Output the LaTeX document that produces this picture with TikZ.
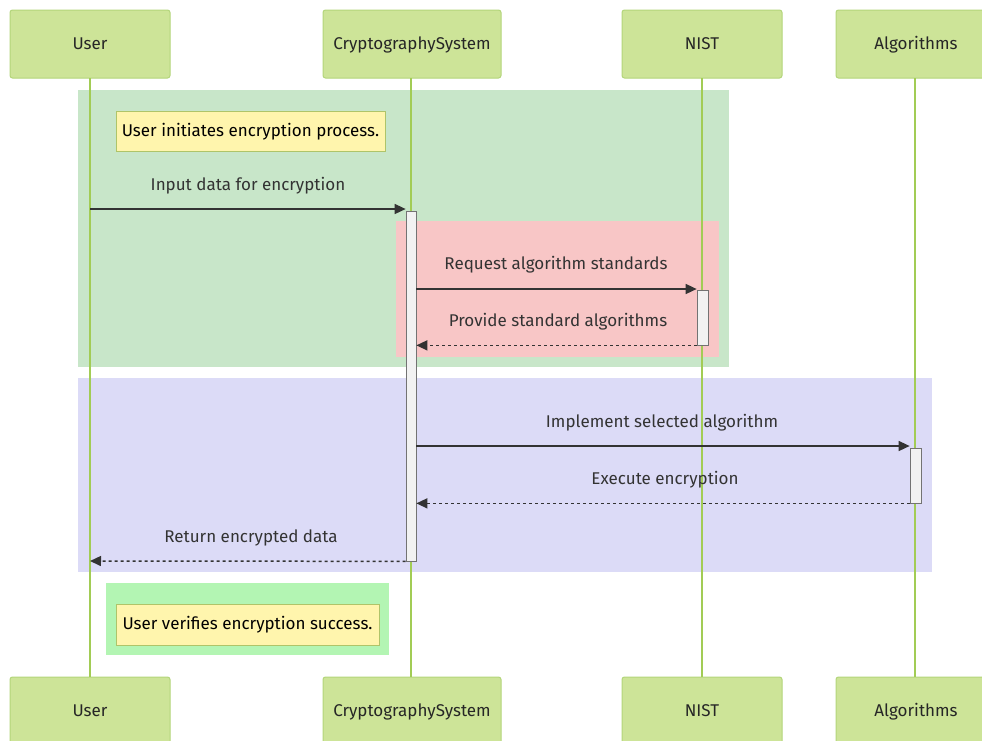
\documentclass[tikz,border=0pt]{standalone}
\usepackage{fontspec}
\setmainfont{Fira Sans}
\usetikzlibrary{arrows.meta}
\definecolor{actfill}{HTML}{CDE498}
\definecolor{actline}{HTML}{B3D57A}
\definecolor{lifeline}{HTML}{A2CC55}
\definecolor{grpgreen}{HTML}{C8E6C9}
\definecolor{grppink}{HTML}{F8C6C6}
\definecolor{grpblue}{HTML}{DCDBF7}
\definecolor{grplight}{HTML}{B3F5B3}
\definecolor{notefill}{HTML}{FFF5AD}
\definecolor{noteline}{HTML}{AFC469}
\definecolor{txt}{HTML}{333333}
\tikzset{
  x=1pt,y=-1pt,
  actor/.style={draw=actline,fill=actfill,rounded corners=2.5pt,line width=1pt,minimum width=160pt,minimum height=68pt,text height=10pt,text depth=0pt,font=\fontsize{17}{20}\selectfont,text=black!85},
  life/.style={draw=lifeline,line width=1.3pt},
  actbox/.style={draw=black!55,fill=black!5,line width=0.7pt},
  note/.style={draw=noteline,fill=notefill,line width=0.9pt,inner sep=0pt,text height=10pt,text depth=0pt,font=\fontsize{17}{20}\selectfont,text=black},
  msglabel/.style={font=\fontsize{17}{20}\selectfont,text=txt},
  msg/.style={draw=txt,line width=1.5pt,-{Triangle[length=11pt,width=10pt]}},
  reply/.style={msg,dash pattern=on 3pt off 3pt},
}
\begin{document}
\begin{tikzpicture}
\clip (0,0) rectangle (982,740);
\fill[white] (0,0) rectangle (982,740);
% group rectangles
\fill[grpgreen] (78,90) rectangle (729,367);
\fill[grppink] (396,221) rectangle (719,357);
\fill[grpblue] (78,378) rectangle (932,572);
\fill[grplight] (106,583) rectangle (389,655);
% actors
\node[actor] (uT) at (90,44) {User};
\node[actor,minimum width=178pt] (cT) at (412,44) {CryptographySystem};
\node[actor] (nT) at (702,44) {NIST};
\node[actor] (aT) at (916,44) {Algorithms};
\node[actor] (uB) at (90,711) {User};
\node[actor,minimum width=178pt] (cB) at (412,711) {CryptographySystem};
\node[actor] (nB) at (702,711) {NIST};
\node[actor] (aB) at (916,711) {Algorithms};
% lifelines
\draw[life] (90,78) -- (90,677);
\draw[life] (411,78) -- (411,677);
\draw[life] (702,78) -- (702,677);
\draw[life] (915,78) -- (915,677);
% activations
\node[actbox,minimum width=10pt,minimum height=350pt,inner sep=0pt] (cA) at (411,386) {};
\node[actbox,minimum width=11pt,minimum height=55pt,inner sep=0pt] (nA) at (702.5,317.5) {};
\node[actbox,minimum width=11pt,minimum height=55pt,inner sep=0pt] (aA) at (915.5,475.5) {};
% notes
\node[note,minimum width=269pt,minimum height=40pt] (n1) at (250.5,131) {User initiates encryption process.};
\node[note,minimum width=263pt,minimum height=41pt] (n2) at (247.5,624.5) {User verifies encryption success.};
% messages
\coordinate (u1) at (90,209);
\coordinate (c1) at (cA.west |- u1);
\draw[msg] (u1) -- (c1);
\node[msglabel] (l1) at (248,185.5) {Input data for encryption};
\coordinate (c2) at (cA.east |- 0,289);
\coordinate (n2a) at (nA.west |- c2);
\draw[msg] (c2) -- (n2a);
\node[msglabel] (l2) at (556,264.5) {Request algorithm standards};
\coordinate (n3) at (nA.south west);
\coordinate (c3) at (cA.east |- n3);
\draw[reply] (n3) -- (c3);
\node[msglabel] (l3) at (558,321.5) {Provide standard algorithms};
\coordinate (c4) at (cA.east |- 0,446);
\coordinate (a4) at (aA.west |- c4);
\draw[msg] (c4) -- (a4);
\node[msglabel] (l4) at (662,422.5) {Implement selected algorithm};
\coordinate (a5) at (aA.south west);
\coordinate (c5) at (cA.east |- a5);
\draw[reply] (a5) -- (c5);
\node[msglabel] (l5) at (665,479.5) {Execute encryption};
\coordinate (c6) at (cA.south west);
\coordinate (u6) at (90,561);
\draw[reply] (c6) -- (u6);
\node[msglabel] (l6) at (251,537.5) {Return encrypted data};
\end{tikzpicture}
\end{document}
